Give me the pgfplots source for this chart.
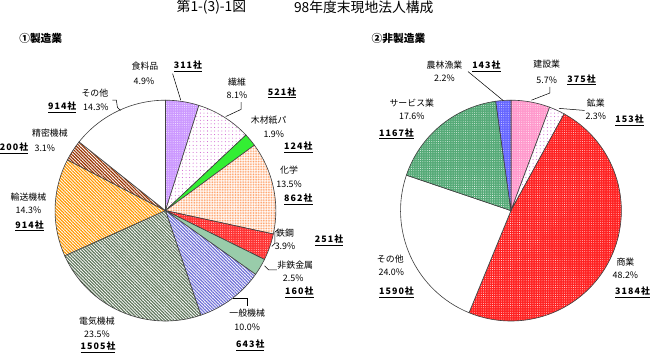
\documentclass[border=0pt]{standalone}
\usepackage{pgfplots}
\pgfplotsset{compat=1.18}
\usetikzlibrary{patterns.meta}
\usepackage{fontspec}
\setmainfont{Noto Sans CJK JP}
\definecolor{food}{HTML}{CC99FF}
\definecolor{fiberdot}{HTML}{CC55CC}
\definecolor{wood}{HTML}{33EE33}
\definecolor{chemdot}{HTML}{FFA066}
\definecolor{steel}{HTML}{FF3333}
\definecolor{nonfe}{HTML}{99CCAA}
\definecolor{genm}{HTML}{7070D8}
\definecolor{elec}{HTML}{5F775B}
\definecolor{trans}{HTML}{FF9900}
\definecolor{prec}{HTML}{993300}
\definecolor{constr}{HTML}{FF99CC}
\definecolor{comm}{HTML}{FF2222}
\definecolor{serv}{HTML}{55AA77}
\definecolor{agri}{HTML}{6666FF}
\definecolor{edge}{HTML}{404040}
\tikzset{
 dotsw/.style={preaction={fill=#1}, pattern={Dots[distance=2.2pt,radius=0.4pt]}, pattern color=white},
 dotsc/.style={preaction={fill=white}, pattern={Dots[distance=3.5pt,radius=0.5pt]}, pattern color=#1},
 dense/.style={preaction={fill=white}, pattern={Dots[distance=1.6pt,radius=0.6pt]}, pattern color=#1},
 linesc/.style={preaction={fill=white}, pattern={Lines[angle=-45,distance=2.2pt,line width=1.15pt]}, pattern color=#1},
 lbl/.style={font=\fontsize{8.7}{10}\selectfont, inner sep=0pt},
 cnt/.style={font=\fontsize{8.7}{10}\selectfont\bfseries\addfontfeature{LetterSpace=12}, inner sep=0pt},
 lead/.style={draw=black, line width=0.5pt},
}
% slice: cx, cy, start (percent), value (percent), style
\newcommand{\slice}[5]{%
 \path[#5] (axis cs:#1,#2) -- ++({90-3.6*(#3)}:108pt) arc[start angle={90-3.6*(#3)}, delta angle={-3.6*(#4)}, radius=108pt] -- cycle;
 \draw[edge, line width=0.6pt] (axis cs:#1,#2) -- ++({90-3.6*(#3)}:108pt) arc[start angle={90-3.6*(#3)}, delta angle={-3.6*(#4)}, radius=108pt] -- cycle;}
\newcommand{\cnttext}[1]{\underline{#1}}
\begin{document}
\begin{tikzpicture}
\begin{axis}[
  width=650pt, height=369pt, scale only axis,
  xmin=0, xmax=650, ymin=0, ymax=369, y dir=reverse,
  hide axis, clip=false]
% Left pie: manufacturing (percent shares, clockwise from top)
\slice{167}{218}{0}{4.9}{dotsw=food}
\slice{167}{218}{4.9}{8.1}{dotsc=fiberdot}
\slice{167}{218}{13.0}{1.9}{fill=wood}
\slice{167}{218}{14.9}{13.5}{dense=chemdot}
\slice{167}{218}{28.4}{3.9}{dotsw=steel}
\slice{167}{218}{32.3}{2.5}{fill=nonfe}
\slice{167}{218}{34.8}{10.0}{linesc=genm}
\slice{167}{218}{44.8}{23.5}{linesc=elec}
\slice{167}{218}{68.3}{14.3}{linesc=trans}
\slice{167}{218}{82.6}{3.1}{linesc=prec}
\slice{167}{218}{85.7}{14.3}{fill=white}
% Right pie: non-manufacturing
\slice{505}{218}{0}{5.7}{dotsw=constr}
\slice{505}{218}{5.7}{2.3}{dotsc=fiberdot}
\slice{505}{218}{8.0}{48.2}{dotsw=comm}
\slice{505}{218}{56.2}{24.0}{fill=white}
\slice{505}{218}{80.2}{17.6}{dotsw=serv}
\slice{505}{218}{97.8}{2.2}{dotsw=agri}
% Titles
\node[font=\fontsize{13.5}{15}\selectfont, inner sep=0pt] at (axis cs:212,19) {第1-(3)-1図};
\node[font=\fontsize{13.5}{15}\selectfont, inner sep=0pt] at (axis cs:361,19) {98年度末現地法人構成};
\node[font=\fontsize{10.5}{12}\selectfont\bfseries, inner sep=0pt] at (axis cs:45,50) {①製造業};
\node[font=\fontsize{10.5}{12}\selectfont\bfseries, inner sep=0pt] at (axis cs:395,50) {②非製造業};
% Left labels
\node[lbl] at (axis cs:147,77) {食料品};
\node[lbl] at (axis cs:146,91) {4.9\%};
\node[cnt] at (axis cs:189,77) {\cnttext{311社}};
\draw[lead] (axis cs:174,84) -- (axis cs:182,110);
\node[lbl] at (axis cs:237,92) {繊維};
\node[lbl] at (axis cs:237,105) {8.1\%};
\node[cnt] at (axis cs:281,103) {\cnttext{521社}};
\draw[lead] (axis cs:241,112) -- (axis cs:241,119) -- (axis cs:226,126);
\node[lbl] at (axis cs:268,130) {木材紙パ};
\node[lbl] at (axis cs:273,143) {1.9\%};
\node[cnt] at (axis cs:297,156) {\cnttext{124社}};
\node[lbl] at (axis cs:288,178) {化学};
\node[lbl] at (axis cs:288,192) {13.5\%};
\node[cnt] at (axis cs:297,207) {\cnttext{862社}};
\node[lbl] at (axis cs:284,240) {鉄鋼};
\node[lbl] at (axis cs:284,253) {3.9\%};
\node[cnt] at (axis cs:327,247) {\cnttext{251社}};
\draw[lead] (axis cs:277,237) -- (axis cs:274,239) -- (axis cs:274,250) -- (axis cs:271,253);
\node[lbl] at (axis cs:294,271) {非鉄金属};
\node[lbl] at (axis cs:292,284) {2.5\%};
\node[cnt] at (axis cs:298,298) {\cnttext{160社}};
\draw[lead] (axis cs:264,272) -- (axis cs:268,276) -- (axis cs:276,276);
\node[lbl] at (axis cs:247,318) {一般機械};
\node[lbl] at (axis cs:247,332) {10.0\%};
\node[cnt] at (axis cs:250,350) {\cnttext{643社}};
\draw[lead] (axis cs:233,304) -- (axis cs:247,304) -- (axis cs:247,311);
\node[lbl] at (axis cs:100,326) {電気機械};
\node[lbl] at (axis cs:100,339) {23.5\%};
\node[cnt] at (axis cs:101,352) {\cnttext{1505社}};
\node[lbl] at (axis cs:33,205) {輸送機械};
\node[lbl] at (axis cs:33,218) {14.3\%};
\node[cnt] at (axis cs:34,233) {\cnttext{914社}};
\node[lbl] at (axis cs:54,142) {精密機械};
\node[lbl] at (axis cs:49,157) {3.1\%};
\node[cnt] at (axis cs:19,157) {\cnttext{200社}};
\node[lbl] at (axis cs:98,103) {その他};
\node[lbl] at (axis cs:99,117) {14.3\%};
\node[cnt] at (axis cs:66,117) {\cnttext{914社}};
\draw[lead] (axis cs:115,110) -- (axis cs:119,110) -- (axis cs:120,117) -- (axis cs:123,120);
% Right labels
\node[lbl] at (axis cs:440,76) {農林漁業};
\node[lbl] at (axis cs:440,89) {2.2\%};
\node[cnt] at (axis cs:481,77) {\cnttext{143社}};
\draw[lead] (axis cs:463,82) -- (axis cs:497,110);
\node[lbl] at (axis cs:540,75) {建設業};
\node[lbl] at (axis cs:540,90) {5.7\%};
\node[cnt] at (axis cs:574,90) {\cnttext{375社}};
\draw[lead] (axis cs:543,97) -- (axis cs:543,103) -- (axis cs:525,110);
\node[lbl] at (axis cs:588,113) {鉱業};
\node[lbl] at (axis cs:588,126) {2.3\%};
\node[cnt] at (axis cs:621,130) {\cnttext{153社}};
\draw[lead] (axis cs:552,118) -- (axis cs:577,120);
\node[lbl] at (axis cs:617,268) {商業};
\node[lbl] at (axis cs:617,281) {48.2\%};
\node[cnt] at (axis cs:624,298) {\cnttext{3184社}};
\node[lbl] at (axis cs:387,265) {その他};
\node[lbl] at (axis cs:388,278) {24.0\%};
\node[cnt] at (axis cs:393,298) {\cnttext{1590社}};
\node[lbl] at (axis cs:408,113) {サービス業};
\node[lbl] at (axis cs:408,126) {17.6\%};
\node[cnt] at (axis cs:393,143) {\cnttext{1167社}};
\end{axis}
\end{tikzpicture}
\end{document}
